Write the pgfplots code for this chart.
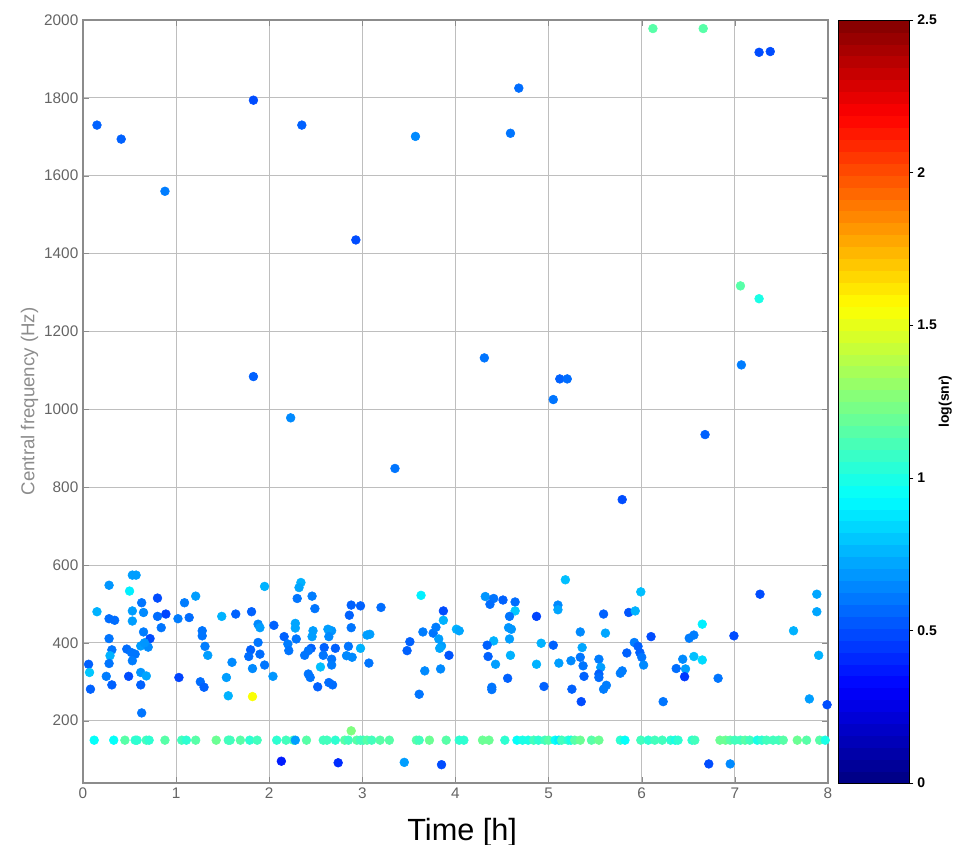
\documentclass[border=0pt]{standalone}
\usepackage{pgfplots}
\pgfplotsset{compat=1.18}
\usepackage{pgfplotstable}
\usepackage{fontspec}
\setmainfont{Liberation Sans}
\definecolor{tickgray}{RGB}{100,100,100}
\definecolor{labelgray}{RGB}{140,140,140}
\definecolor{gridgray}{RGB}{190,190,190}
\definecolor{axisgray}{RGB}{140,140,140}
\pgfplotsset{/pgf/number format/assume math mode=true}

\pgfplotstableread{
x y c
0.15 1730 0.55
0.41 1694 0.55
0.88 1560 0.62
1.83 1794 0.50
1.83 1084 0.55
2.35 1730 0.55
2.23 978 0.65
2.93 1435 0.50
3.35 848 0.60
3.57 1701 0.65
4.59 1709 0.60
4.68 1825 0.58
4.31 1132 0.60
5.05 1025 0.60
5.12 1078 0.55
5.20 1078 0.58
5.79 768 0.50
6.12 1978 1.15
6.66 1978 1.15
6.68 935 0.55
7.06 1317 1.15
7.07 1114 0.62
7.26 1284 1.00
7.26 1917 0.50
7.38 1919 0.50
0.53 574 0.70
0.57 574 0.70
0.28 548 0.68
0.50 533 0.90
0.80 515 0.50
0.63 503 0.60
1.09 503 0.62
1.21 520 0.70
0.15 480 0.75
0.53 482 0.70
0.65 478 0.65
0.28 462 0.58
0.34 458 0.58
0.53 456 0.70
0.80 468 0.58
0.89 474 0.48
1.02 462 0.62
1.14 465 0.58
1.49 468 0.75
0.84 439 0.60
0.65 428 0.62
1.28 431 0.60
1.28 418 0.60
0.28 411 0.60
0.72 411 0.50
0.62 392 0.70
0.70 389 0.65
0.66 400 0.68
0.31 382 0.60
0.47 384 0.58
0.52 375 0.60
0.56 371 0.60
1.31 391 0.62
1.34 368 0.70
0.29 367 0.75
0.53 354 0.62
0.06 345 0.55
0.28 347 0.60
0.07 324 0.80
0.62 324 0.68
0.68 315 0.72
0.25 314 0.62
0.49 314 0.50
1.03 311 0.48
1.54 311 0.70
1.26 300 0.58
1.30 286 0.55
0.31 292 0.55
0.62 292 0.55
0.08 281 0.55
1.56 264 0.75
0.63 220 0.60
1.95 545 0.75
2.34 555 0.75
2.32 542 0.72
2.30 514 0.60
2.46 520 0.62
2.49 488 0.60
1.64 474 0.55
1.81 480 0.55
1.88 448 0.65
1.90 439 0.70
2.05 445 0.55
2.28 450 0.72
2.28 438 0.72
2.88 497 0.55
2.98 495 0.55
2.86 471 0.55
2.88 439 0.60
2.16 416 0.55
2.29 410 0.60
2.47 431 0.70
2.46 416 0.70
2.67 431 0.68
2.63 435 0.70
2.64 416 0.65
3.05 420 0.70
3.08 422 0.70
1.88 401 0.60
2.20 397 0.62
2.21 380 0.60
1.80 382 0.55
1.78 365 0.58
1.90 371 0.58
2.45 386 0.55
2.38 368 0.60
2.42 380 0.60
2.59 388 0.55
2.58 368 0.60
2.71 386 0.55
2.67 358 0.60
2.67 343 0.62
2.85 391 0.60
2.83 367 0.65
2.89 363 0.65
2.98 386 0.75
1.60 350 0.65
1.82 334 0.65
1.95 343 0.60
2.04 314 0.68
2.55 338 0.78
3.07 348 0.60
2.42 320 0.60
2.44 311 0.60
2.64 298 0.58
2.68 292 0.58
2.52 287 0.55
1.82 262 1.55
2.13 96 0.38
2.74 92 0.42
3.63 522 0.90
3.20 491 0.58
3.87 482 0.50
3.87 458 0.75
3.65 428 0.62
3.76 425 0.60
3.79 440 0.62
4.01 435 0.75
4.04 431 0.72
3.82 410 0.70
3.85 392 0.70
3.83 386 0.72
3.51 403 0.55
3.48 380 0.55
3.93 368 0.52
3.67 328 0.65
3.84 333 0.65
3.61 268 0.60
4.32 519 0.68
4.41 514 0.60
4.51 510 0.55
4.64 505 0.58
4.37 499 0.58
4.64 482 0.80
4.58 468 0.60
4.57 439 0.68
4.60 435 0.68
4.58 410 0.70
4.41 405 0.75
4.34 394 0.55
4.35 365 0.55
4.43 345 0.70
4.59 368 0.75
4.56 309 0.55
4.39 286 0.60
4.39 280 0.60
3.45 93 0.70
3.85 87 0.50
5.18 562 0.78
5.99 531 0.78
5.10 497 0.65
5.10 485 0.72
4.87 468 0.48
5.59 474 0.55
5.86 478 0.52
5.93 482 0.75
5.34 428 0.65
5.61 425 0.72
6.10 416 0.50
4.92 399 0.75
5.05 394 0.55
5.36 388 0.72
5.92 401 0.62
5.96 391 0.55
5.98 375 0.55
6.00 363 0.60
6.02 343 0.65
5.84 374 0.55
5.34 363 0.60
5.37 341 0.60
5.24 354 0.65
5.11 348 0.70
4.87 345 0.75
5.54 358 0.62
5.56 337 0.70
5.54 320 0.55
5.54 311 0.58
5.38 314 0.55
5.79 328 0.62
5.77 322 0.62
4.95 288 0.55
5.25 281 0.55
5.59 281 0.62
5.62 291 0.62
5.35 249 0.50
6.23 249 0.60
7.27 525 0.50
7.88 525 0.72
7.88 480 0.72
6.65 448 0.90
6.51 412 0.62
6.56 420 0.62
6.99 418 0.50
7.63 431 0.75
6.44 358 0.65
6.37 334 0.58
6.47 333 0.70
6.46 313 0.45
6.56 365 0.78
6.65 356 0.85
6.82 309 0.60
7.90 368 0.75
7.80 256 0.70
7.99 241 0.50
6.72 89 0.50
6.95 89 0.65
0.12 150 0.95
0.33 150 0.95
0.45 150 1.15
0.56 150 1.05
0.58 150 1.05
0.68 150 1.10
0.71 150 1.05
0.88 150 1.15
1.06 150 1.10
1.11 150 1.05
1.21 150 1.15
1.43 150 1.20
1.56 150 1.10
1.58 150 1.10
1.69 150 1.15
1.79 150 1.05
1.87 150 1.10
2.08 150 1.05
2.18 150 1.10
2.26 150 1.10
2.28 150 0.70
2.40 150 1.15
2.58 150 1.10
2.62 150 1.10
2.71 150 1.05
2.81 150 1.15
2.85 150 1.10
2.88 174 1.25
2.94 150 1.15
2.98 150 1.10
3.01 150 1.10
3.05 150 1.15
3.10 150 1.10
3.19 150 1.15
3.29 150 1.15
3.58 150 1.15
3.61 150 1.10
3.72 150 1.20
3.90 150 1.15
4.04 150 1.05
4.09 150 1.05
4.29 150 1.20
4.36 150 1.20
4.53 150 1.05
4.66 150 0.95
4.72 150 1.00
4.78 150 1.00
4.84 150 1.10
4.89 150 1.05
4.96 150 1.10
5.00 150 1.15
5.07 150 0.95
5.11 150 0.90
5.14 150 1.10
5.21 150 1.05
5.24 150 1.00
5.28 150 1.15
5.34 150 1.20
5.46 150 1.15
5.54 150 1.20
5.77 150 1.05
5.82 150 0.95
5.99 150 1.10
6.07 150 1.05
6.14 150 1.10
6.22 150 1.10
6.31 150 1.05
6.36 150 1.00
6.39 150 1.05
6.54 150 1.05
6.57 150 1.10
6.84 150 1.20
6.90 150 1.20
6.95 150 1.15
7.00 150 1.10
7.06 150 1.10
7.11 150 1.15
7.16 150 1.10
7.24 150 1.00
7.29 150 1.05
7.34 150 1.10
7.41 150 1.10
7.47 150 1.10
7.52 150 1.15
7.67 150 1.20
7.77 150 1.15
7.91 150 1.15
7.97 150 1.00
}\events

\begin{document}
\begin{tikzpicture}
\useasboundingbox (-62.25pt,-46.5pt) rectangle (655.5pt,587.25pt);
\begin{axis}[
  at={(0,0)}, anchor=south west,
  scale only axis, width=558.75pt, height=572.25pt,
  xmin=0, xmax=8, ymin=40, ymax=2000,
  xtick={0,1,...,8}, ytick={200,400,...,2000},
  grid=major, grid style={color=gridgray, line width=0.6pt},
  axis line style={color=axisgray, line width=0.8pt},
  tick style={color=axisgray},
  ticklabel style={font=\fontsize{11.5}{12}\selectfont, text=tickgray},
  /pgf/number format/1000 sep={},
  xlabel={Time [h]}, ylabel={Central frequency (Hz)},
  xlabel style={at={(axis description cs:0.509,-0.0647)}, anchor=center, font=\fontsize{23}{23}\selectfont, text=black},
  ylabel style={at={(axis description cs:-0.0716,0.5)}, anchor=center, font=\fontsize{14}{14}\selectfont, text=labelgray},
  colormap/jet, point meta min=0, point meta max=2.5,
  colorbar sampled,
  colorbar style={
    at={(parent axis.north east)}, anchor=north west, xshift=-0.75pt,
    width=53.25pt, samples=65,
    ytick={0,0.5,1,1.5,2,2.5},
    ytick pos=right,
    yticklabel style={font=\bfseries\fontsize{10.5}{11}\selectfont, text=black, xshift=-0.5pt},
    /pgf/number format/assume math mode=true,
    tick align=outside, major tick length=3pt,
    tick style={color=black},
    axis line style={color=black, line width=0.6pt},
    ylabel={log(snr)},
    ylabel style={at={(axis description cs:1.507,0.5)}, anchor=center, font=\bfseries\fontsize{10.5}{11}\selectfont, text=black},
  },
]
\addplot[scatter, only marks, mark=*, mark size=3.3pt, scatter src=explicit,
  scatter/use mapped color={draw=mapped color, fill=mapped color}]
  table[x=x, y=y, meta=c] {\events};
\end{axis}
\end{tikzpicture}
\end{document}
